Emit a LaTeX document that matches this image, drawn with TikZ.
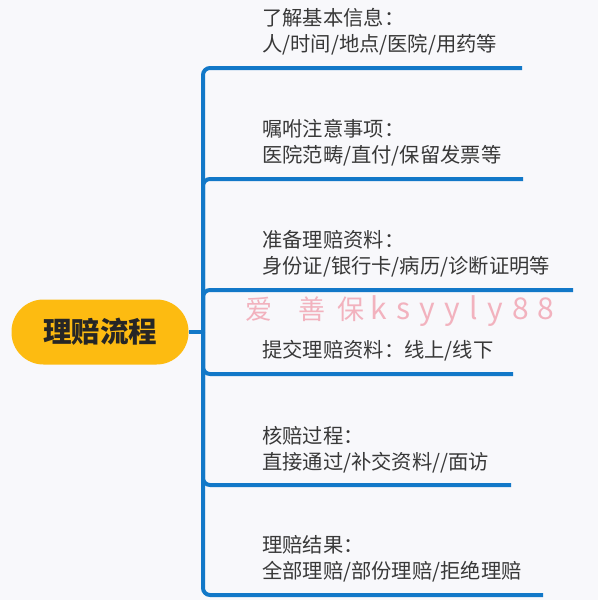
\documentclass[tikz,border=0pt]{standalone}
\usepackage{fontspec}
\newfontfamily\cjk{Noto Sans CJK SC}
\usetikzlibrary{positioning}
\definecolor{BranchBlue}{HTML}{1278C8}
\definecolor{RootYellow}{HTML}{FDBB11}
\definecolor{PageBg}{HTML}{F8F8FB}
\definecolor{TextGrey}{HTML}{383838}
\definecolor{MarkPink}{HTML}{F2B2BE}

\begin{document}
\begin{tikzpicture}[x=1pt,y=-1pt,
  branch/.style={BranchBlue,line width=4pt,rounded corners=7pt},
  topic/.style={anchor=west,inner sep=0pt,align=left,text=TextGrey,
    font=\cjk\fontsize{20.3}{26}\selectfont},
  root/.style={fill=RootYellow,rounded corners=32pt,minimum width=177pt,
    minimum height=65pt,text=black!85,font=\cjk\bfseries\fontsize{28.5}{30}\selectfont},
  wmark/.style={anchor=west,inner sep=0pt,text=MarkPink,
    font=\cjk\fontsize{27}{30}\selectfont}]
\fill[PageBg] (0,0) rectangle (598,600);

% watermark
\node[wmark] (wm) at (245,311) {爱\hspace{26pt}善\hspace{12pt}保\hspace{6pt}{\fontsize{30}{30}\selectfont\addfontfeature{LetterSpace=31}ksyyly88}};

% root and trunk
\node[root] (root) at (100,332) {理赔流程};
\coordinate (hub) at (203,332);
\draw[branch] (root.east) -- (hub);

% branch ends
\coordinate (e1) at (522,68);
\coordinate (e2) at (523,179);
\coordinate (e3) at (573,290);
\coordinate (e4) at (513,374);
\coordinate (e5) at (511,485);
\coordinate (e6) at (543,595);
\foreach \e in {e1,e2,e3,e4,e5,e6}
  \draw[branch] (hub) |- (\e);

% topics
\node[topic] (t1) at (262,32) {了解基本信息：\\人/时间/地点/医院/用药等};
\node[topic] (t2) at (262,143) {嘱咐注意事项：\\医院范畴/直付/保留发票等};
\node[topic] (t3) at (262,254) {准备理赔资料：\\身份证/银行卡/病历/诊断证明等};
\node[topic] (t4) at (262,351) {提交理赔资料：线上/线下};
\node[topic] (t5) at (262,450) {核赔过程：\\直接通过/补交资料//面访};
\node[topic] (t6) at (262,559) {理赔结果：\\全部理赔/部份理赔/拒绝理赔};
\end{tikzpicture}
\end{document}
